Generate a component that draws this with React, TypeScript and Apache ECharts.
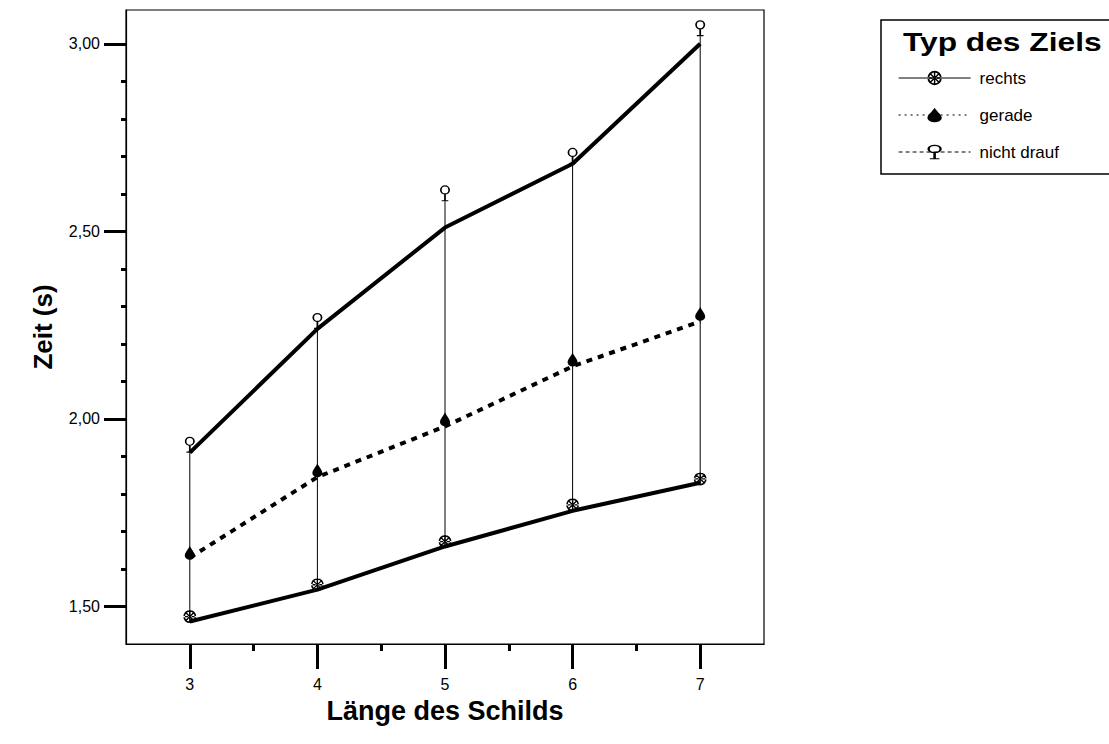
import React, { useEffect, useRef } from "react";
import * as echarts from "echarts";

// ---- data ----
const xValues = [3, 4, 5, 6, 7];
// interpolation lines of the means
const nichtDraufLine = [1.91, 2.24, 2.51, 2.68, 3.0];
const geradeLine = [1.63, 1.845, 1.98, 2.14, 2.26];
const rechtsLine = [1.46, 1.545, 1.66, 1.755, 1.83];
// markers of the means
const nichtDraufMarks = [1.91, 2.24, 2.58, 2.68, 3.02];
const geradeMarks = [1.638, 1.858, 1.994, 2.153, 2.275];
const rechtsMarks = [1.473, 1.558, 1.673, 1.771, 1.84];

const xMajorTicks = [3, 4, 5, 6, 7];
const xMinorTicks = [3.5, 4.5, 5.5, 6.5];
const yMajorTicks = [1.5, 2.0, 2.5, 3.0];
const yMinorTicks = [1.6, 1.7, 1.8, 1.9, 2.1, 2.2, 2.3, 2.4, 2.6, 2.7, 2.8, 2.9];

const seriesNames = ["rechts", "gerade", "nicht drauf"];
const legendTitle = "Typ des Ziels";
const xTitle = "Länge des Schilds";
const yTitle = "Zeit (s)";

const FONT = "'Liberation Sans', Arial, sans-serif";

const wheelPath =
  "path://M-10,0A10,10,0,1,1,10,0A10,10,0,1,1,-10,0Z" +
  "M-7.5,0A7.5,7.5,0,1,0,7.5,0A7.5,7.5,0,1,0,-7.5,0Z" +
  "M-1,-10L1,-10L1,10L-1,10Z" +
  "M-10,-1L-10,1L10,1L10,-1Z" +
  "M-7.8,-6.4L-6.4,-7.8L7.8,6.4L6.4,7.8Z" +
  "M6.4,-7.8L7.8,-6.4L-6.4,7.8L-7.8,6.4Z" +
  "M-3,0A3,3,0,1,1,3,0A3,3,0,1,1,-3,0Z";
const dropPath =
  "path://M0,-12C2,-6,6,-2,6,3A6,6,0,1,1,-6,3C-6,-2,-2,-6,0,-12Z";
const treePath =
  "path://M-4.5,-4A4.5,5.5,0,1,1,4.5,-4A4.5,5.5,0,1,1,-4.5,-4Z" +
  "M-3,-4A3,4,0,1,0,3,-4A3,4,0,1,0,-3,-4Z" +
  "M-0.8,1L0.8,1L0.8,9L-0.8,9Z" +
  "M-3,8.2L3,8.2L3,9.6L-3,9.6Z";

const toPairs = (vals: number[]) => xValues.map((x, i) => [x, vals[i]]);
const isIn = (list: number[], v: number) => list.some((t) => Math.abs(t - v) < 1e-6);

export default function App() {
  const ref = useRef<HTMLDivElement>(null);
  useEffect(() => {
    if (!ref.current) return;
    const chart = echarts.init(ref.current, undefined, { renderer: "svg" });
    const fmtY = (v: number) => (isIn(yMajorTicks, v) ? v.toFixed(2).replace(".", ",") : "");
    const fmtX = (v: number) => (isIn(xMajorTicks, v) ? String(Math.round(v)) : "");
    const lineSeries = (name: string, vals: number[], symbol: string, size: any, type: any) => ({
      type: "line",
      name,
      data: toPairs(vals),
      z: 3,
      symbol,
      symbolSize: size,
      showSymbol: false,
      itemStyle: { color: "#000" },
      lineStyle: { color: "#000", width: 4, type },
    });
    const markSeries = (name: string, vals: number[], symbol: string, size: any, offset: number) => ({
      type: "scatter",
      name,
      data: toPairs(vals),
      z: 4,
      symbol,
      symbolSize: size,
      symbolOffset: [0, offset],
      itemStyle: { color: "#000", opacity: 1 },
    });
    chart.setOption({
      animation: false,
      backgroundColor: "#fff",
      textStyle: { fontFamily: FONT, color: "#000" },
      grid: {
        left: 126,
        right: 345,
        top: 10,
        bottom: 100,
        show: true,
        borderColor: "#000",
        borderWidth: 1.2,
        backgroundColor: "transparent",
      },
      xAxis: [
        {
          type: "value",
          min: 2.5,
          max: 7.5,
          interval: 0.5,
          position: "bottom",
          axisLine: { show: true, lineStyle: { color: "#000", width: 1.2 } },
          axisTick: {
            show: true,
            customValues: xMajorTicks,
            length: 25,
            lineStyle: { color: "#000", width: 3 },
          },
          axisLabel: {
            show: true,
            margin: 32,
            fontSize: 16,
            color: "#000",
            fontFamily: FONT,
            formatter: fmtX,
          },
          splitLine: { show: false },
          name: xTitle,
          nameLocation: "middle",
          nameGap: 53,
          nameTextStyle: { fontSize: 27, fontWeight: "bold", color: "#000", fontFamily: FONT },
        },
        {
          type: "value",
          min: 2.5,
          max: 7.5,
          position: "bottom",
          offset: 0,
          axisLine: { show: false },
          axisTick: {
            show: true,
            customValues: xMinorTicks,
            length: 7,
            lineStyle: { color: "#000", width: 3 },
          },
          axisLabel: { show: false },
          splitLine: { show: false },
        },
      ],
      yAxis: [
        {
          type: "value",
          min: 1.4,
          max: 3.09,
          interval: 0.1,
          position: "left",
          axisLine: { show: true, lineStyle: { color: "#000", width: 1.2 } },
          axisTick: {
            show: true,
            customValues: yMajorTicks,
            length: 22,
            lineStyle: { color: "#000", width: 3 },
          },
          axisLabel: {
            show: true,
            margin: 26,
            fontSize: 16,
            color: "#000",
            fontFamily: FONT,
            formatter: fmtY,
          },
          splitLine: { show: false },
          name: yTitle,
          nameLocation: "middle",
          nameGap: 70,
          nameTextStyle: { fontSize: 26, fontWeight: "bold", color: "#000", fontFamily: FONT },
        },
        {
          type: "value",
          min: 1.4,
          max: 3.09,
          position: "left",
          offset: 0,
          axisLine: { show: false },
          axisTick: {
            show: true,
            customValues: yMinorTicks,
            length: 5,
            lineStyle: { color: "#000", width: 3 },
          },
          axisLabel: { show: false },
          splitLine: { show: false },
        },
      ],
      legend: {
        orient: "vertical",
        left: 898,
        top: 69,
        padding: 0,
        itemWidth: 72,
        itemHeight: 18,
        itemGap: 19,
        textStyle: { fontSize: 17, color: "#000", fontFamily: FONT, lineHeight: 18, padding: [0, 0, 0, 4] },
        data: [
          { name: seriesNames[0], lineStyle: { width: 1, type: "solid" } },
          { name: seriesNames[1], lineStyle: { width: 1.2, type: [2, 4] } },
          { name: seriesNames[2], lineStyle: { width: 1, type: [4, 3] } },
        ],
      },
      graphic: [
        {
          type: "rect",
          shape: { x: 881, y: 20, width: 240, height: 154 },
          style: { fill: "transparent", stroke: "#000", lineWidth: 1.5 },
        },
        {
          type: "text",
          x: 903,
          y: 29,
          scaleX: 1.22,
          style: {
            text: legendTitle,
            font: `bold 26px ${FONT}`,
            fill: "#000",
          },
        },
      ],
      series: [
        {
          type: "custom",
          name: "range",
          silent: true,
          z: 1,
          data: xValues.map((x, i) => [x, rechtsMarks[i], nichtDraufMarks[i]]),
          encode: { x: 0, y: [1, 2] },
          renderItem: (params: any, api: any) => {
            const p1 = api.coord([api.value(0), api.value(1)]);
            const p2 = api.coord([api.value(0), api.value(2)]);
            return {
              type: "line",
              shape: { x1: p1[0], y1: p1[1], x2: p2[0], y2: p2[1] },
              style: { stroke: "#000", lineWidth: 1 },
            };
          },
        },
        lineSeries(seriesNames[0], rechtsLine, wheelPath, 13, "solid"),
        lineSeries(seriesNames[1], geradeLine, dropPath, [10, 14], [6, 6]),
        lineSeries(seriesNames[2], nichtDraufLine, treePath, [10, 16], "solid"),
        markSeries(seriesNames[0], rechtsMarks, wheelPath, 13, 0),
        markSeries(seriesNames[1], geradeMarks, dropPath, [10, 14], -2),
        markSeries(seriesNames[2], nichtDraufMarks, treePath, [10, 16], -8),
      ],
    });
    return () => chart.dispose();
  }, []);
  return (
    <div
      ref={ref}
      style={{ position: "fixed", left: 0, top: 0, width: 1109, height: 744, background: "#fff" }}
    />
  );
}
